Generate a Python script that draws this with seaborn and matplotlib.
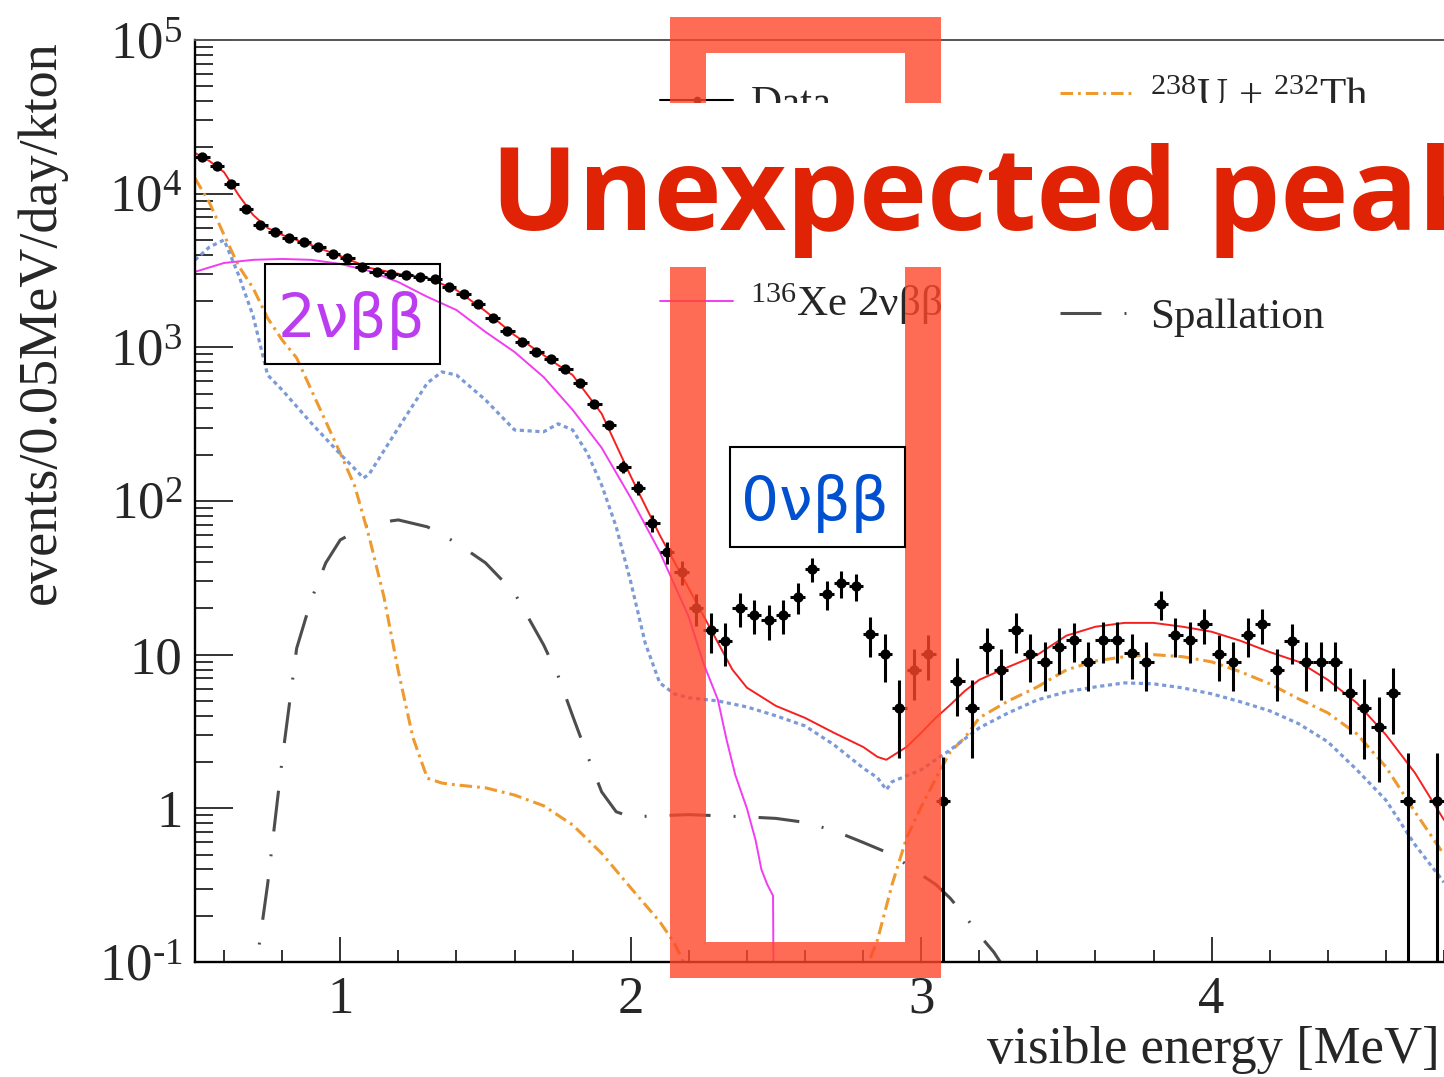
import numpy as np
import pandas as pd
import matplotlib
matplotlib.use("Agg")
import matplotlib.pyplot as plt
from matplotlib.patches import Rectangle
from matplotlib.lines import Line2D
from matplotlib.ticker import FixedLocator, LogLocator, NullFormatter, FuncFormatter, MultipleLocator
import seaborn as sns

# ---------------------------------------------------------------- data
# measured spectrum, 0.05 MeV bins (bin centres 0.525 ... 4.775 MeV)
energy_bins = np.round(np.arange(0.525, 4.80, 0.05), 3)
data_rate = [
    17300, 15100, 11600, 7950, 6250, 5630, 5150, 4850, 4500, 4070,
    3820, 3340, 3090, 3000, 2950, 2870, 2790, 2470, 2220, 1910,
    1550, 1280, 1085, 933, 841, 723, 587, 428, 313, 167,
    122, 72, 46.6, 34.6, 20.2, 14.5, 12.3, 20.2, 18.2, 16.8,
    18.2, 23.8, 36.2, 24.9, 29.3, 28.0, 13.6, 10.1, 4.5, 7.96,
    10.1, 1.12, 6.76, 4.5, 11.2, 7.96, 14.5, 10.1, 8.98, 11.2,
    12.5, 8.98, 12.5, 12.5, 10.3, 8.98, 21.4, 13.4, 12.5, 15.8,
    10.1, 8.98, 13.4, 15.8, 7.96, 12.3, 8.98, 8.98, 8.98, 5.64,
    4.5, 3.39, 5.64, 1.12, np.nan, 1.12,
]
data_err = [
    140, 130, 115, 95, 85, 80, 78, 75, 72, 68,
    66, 62, 60, 59, 58, 57, 57, 53, 50, 47,
    42, 38, 35, 33, 31, 29, 26, 22, 19, 14,
    12, 9, 7.6, 6.2, 4.8, 4.2, 3.8, 5.0, 4.5, 4.3,
    4.5, 5.5, 6.5, 5.4, 5.8, 5.6, 4.0, 3.5, 2.36, 2.9,
    3.3, 1.04, 2.77, 2.36, 3.7, 2.9, 4.2, 3.5, 3.2, 3.7,
    3.6, 3.2, 3.7, 3.7, 3.4, 3.2, 4.6, 3.8, 3.7, 4.0,
    3.4, 3.2, 3.8, 4.0, 3.0, 3.6, 3.2, 3.2, 3.2, 2.6,
    2.4, 1.9, 2.6, 1.18, np.nan, 1.18,
]

# best-fit total
total_e = [0.50, 0.55, 0.60, 0.65, 0.70, 0.75, 0.80, 0.90, 1.00, 1.10,
           1.20, 1.30, 1.40, 1.50, 1.60, 1.70, 1.80, 1.90, 2.00, 2.10,
           2.20, 2.30, 2.35, 2.40, 2.50, 2.60, 2.70, 2.80, 2.85, 2.88,
           2.95, 3.00, 3.05, 3.10, 3.15, 3.20, 3.30, 3.40, 3.50, 3.60,
           3.70, 3.80, 3.90, 4.00, 4.10, 4.20, 4.30, 4.40, 4.50, 4.60,
           4.70, 4.80]
total_rate = [18400, 16300, 13800, 9800, 7270, 5980, 5390, 4630, 3930, 3290,
              3010, 2830, 2360, 1720, 1200, 890, 660, 370, 145, 60,
              27, 12, 8.0, 6.1, 4.64, 3.88, 3.10, 2.51, 2.16, 2.07,
              2.51, 3.1, 3.88, 4.71, 5.8, 6.86, 8.32, 9.97, 13.3, 15.2,
              16.1, 16.1, 15.2, 14.1, 12.3, 10.4, 8.98, 6.86, 4.85, 3.01,
              1.70, 0.84]

# 136Xe two-neutrino double beta decay
xe2nu_e = [0.50, 0.60, 0.70, 0.80, 0.90, 1.00, 1.10, 1.20, 1.30, 1.40,
           1.50, 1.60, 1.70, 1.80, 1.90, 2.00, 2.10, 2.20, 2.25, 2.30,
           2.33, 2.36, 2.40, 2.43, 2.45, 2.47, 2.49, 2.495]
xe2nu_rate = [3100, 3540, 3710, 3760, 3710, 3490, 3140, 2660, 2130, 1750,
              1260, 933, 641, 392, 222, 105, 46.6, 17.6, 8.85, 5.1,
              2.8, 1.65, 1.0, 0.62, 0.40, 0.32, 0.27, 0.01]

# 238U + 232Th chains
uth_e = [0.50, 0.55, 0.60, 0.65, 0.70, 0.75, 0.80, 0.85, 0.90, 1.00,
         1.05, 1.10, 1.15, 1.20, 1.25, 1.30, 1.35, 1.40, 1.50, 1.60,
         1.70, 1.80, 1.90, 2.00, 2.05, 2.10, 2.15, 2.20, 2.80, 2.85,
         2.90, 2.95, 3.00, 3.05, 3.10, 3.15, 3.20, 3.30, 3.40, 3.50,
         3.60, 3.70, 3.80, 3.90, 4.00, 4.10, 4.20, 4.30, 4.40, 4.50,
         4.60, 4.70, 4.80]
uth_rate = [12600, 8710, 5390, 3390, 2430, 1550, 1117, 853, 530, 205,
            125, 58, 24, 7.8, 2.9, 1.57, 1.46, 1.42, 1.36, 1.22,
            1.04, 0.78, 0.51, 0.304, 0.236, 0.183, 0.133, 0.085, 0.08, 0.14,
            0.32, 0.645, 1.02, 1.56, 2.33, 2.88, 3.88, 5.0, 6.17, 7.96,
            9.1, 9.7, 10.0, 9.7, 8.98, 7.73, 6.46, 5.15, 4.18, 3.05,
            1.86, 0.95, 0.50]

# remaining background component (dotted)
other_bg_e = [0.50, 0.55, 0.60, 0.65, 0.70, 0.75, 0.80, 0.90, 1.00, 1.05,
              1.08, 1.10, 1.20, 1.30, 1.35, 1.40, 1.50, 1.60, 1.70, 1.75,
              1.80, 1.85, 1.90, 1.95, 2.00, 2.05, 2.10, 2.15, 2.20, 2.30,
              2.40, 2.50, 2.60, 2.70, 2.80, 2.85, 2.88, 2.90, 3.00, 3.05,
              3.10, 3.20, 3.30, 3.40, 3.50, 3.60, 3.70, 3.80, 3.90, 4.00,
              4.10, 4.20, 4.30, 4.40, 4.50, 4.60, 4.70, 4.80]
other_bg_rate = [3700, 4500, 5000, 2960, 1600, 661, 528, 322, 202, 162,
                 141, 150, 299, 587, 692, 661, 455, 290, 282, 318,
                 290, 206, 127, 68, 29.8, 11.9, 6.55, 5.56, 5.24, 5.0,
                 4.57, 4.0, 3.44, 2.59, 1.83, 1.58, 1.32, 1.49, 1.78, 2.07,
                 2.4, 3.34, 4.18, 5.08, 5.73, 6.17, 6.55, 6.46, 6.08, 5.56,
                 4.93, 4.31, 3.55, 2.71, 1.78, 1.13, 0.58, 0.33]

# spallation products
spall_e = [0.70, 0.72, 0.75, 0.80, 0.85, 0.90, 0.95, 1.00, 1.10, 1.20,
           1.30, 1.40, 1.50, 1.60, 1.70, 1.75, 1.80, 1.85, 1.90, 1.95,
           2.00, 2.20, 2.40, 2.50, 2.60, 2.70, 2.80, 2.90, 3.00, 3.05,
           3.10, 3.15, 3.20, 3.25, 3.28, 3.30]
spall_rate = [0.05, 0.125, 0.32, 2.07, 11.0, 22.7, 39.5, 55.8, 71, 75.3,
              67.9, 53.4, 39.6, 25.2, 11.6, 7.3, 4.0, 2.23, 1.28, 0.95,
              0.88, 0.91, 0.88, 0.86, 0.81, 0.715, 0.60, 0.50, 0.37, 0.32,
              0.26, 0.20, 0.15, 0.116, 0.095, 0.08]

y_tick_values = [0.1, 1, 10, 100, 1e3, 1e4, 1e5]
y_tick_labels = [r"$10^{\text{-}1}$", "1", "10", r"$10^{2}$", r"$10^{3}$",
                 r"$10^{4}$", r"$10^{5}$"]
x_tick_values = [1, 2, 3, 4]

# ---------------------------------------------------------------- style
sns.set_style("white")
plt.rcParams["font.family"] = ["Liberation Serif", "DejaVu Serif"]
plt.rcParams["mathtext.fontset"] = "custom"
plt.rcParams["mathtext.rm"] = "Liberation Serif"
plt.rcParams["mathtext.it"] = "Liberation Serif:italic"
plt.rcParams["mathtext.bf"] = "Liberation Serif:bold"
plt.rcParams["lines.scale_dashes"] = False

W, H = 1444, 1077
fig = plt.figure(figsize=(W / 100, H / 100), dpi=100)


def fx(px):
    return px / W


def fy(py):
    return 1 - py / H


ax = fig.add_axes([fx(195), fy(962), fx(1444) - fx(195), fy(40) - fy(962)])
ax.set_yscale("log")

RED = "#F52020"
MAGENTA = "#F23CF2"
ORANGE = "#EE9A2E"
BLUE = "#7C9AD8"
GREY = "#4D4D4D"
SPALL_DASH = (0, (29.5, 16.6, 1.4, 16.6))
UTH_DASH = (0, (9.0, 3.6, 2.0, 3.6))

sns.lineplot(x=spall_e, y=spall_rate, ax=ax, color=GREY, lw=2.2,
             linestyle=SPALL_DASH, estimator=None, sort=False)
sns.lineplot(x=uth_e, y=uth_rate, ax=ax, color=ORANGE, lw=2.2,
             linestyle=UTH_DASH, estimator=None, sort=False)
sns.lineplot(x=other_bg_e, y=other_bg_rate, ax=ax, color=BLUE, lw=2.3,
             linestyle=(0, (3.0, 2.6)), estimator=None, sort=False)
sns.lineplot(x=xe2nu_e, y=xe2nu_rate, ax=ax, color=MAGENTA, lw=1.4,
             estimator=None, sort=False)
sns.lineplot(x=total_e, y=total_rate, ax=ax, color=RED, lw=1.4,
             estimator=None, sort=False)

rate = np.array(data_rate, dtype=float)
err = np.array(data_err, dtype=float)
err_lo = np.where(rate - err > 0, err, rate - 1e-3)
ax.errorbar(energy_bins, rate, yerr=[err_lo, err], xerr=0.025, fmt="none",
            ecolor="black", elinewidth=2.2, capsize=0, zorder=4)
sns.scatterplot(x=energy_bins, y=rate, ax=ax, color="black", s=55,
                marker="o", edgecolor="black", linewidth=0, zorder=5)

ax.set_xlim(0.5, 4.8)
ax.set_ylim(0.1, 1e5)
ax.set_xlabel("")
ax.set_ylabel("")

ax.yaxis.set_major_locator(FixedLocator(y_tick_values))
ax.yaxis.set_major_formatter(FuncFormatter(
    lambda v, pos: dict(zip(y_tick_values, y_tick_labels)).get(v, "")))
ax.yaxis.set_minor_locator(LogLocator(base=10, subs=np.arange(2, 10), numticks=30))
ax.yaxis.set_minor_formatter(NullFormatter())
ax.xaxis.set_major_locator(FixedLocator(x_tick_values))
ax.xaxis.set_major_formatter(FuncFormatter(lambda v, pos: f"{v:g}"))
ax.xaxis.set_minor_locator(MultipleLocator(0.2))

ax.tick_params(axis="y", which="major", direction="in", length=27, width=1.4,
               color="#333333", labelsize=38, pad=9, left=True, right=False)
ax.tick_params(axis="y", which="minor", direction="in", length=13, width=1.4,
               color="#333333", left=True, right=False)
ax.tick_params(axis="x", which="major", direction="in", length=18, width=1.4,
               color="#333333", labelsize=38, pad=10, bottom=True, top=False)
ax.tick_params(axis="x", which="minor", direction="in", length=9, width=1.4,
               color="#333333", bottom=True, top=False)

for side in ("left", "bottom"):
    ax.spines[side].set_color("black")
    ax.spines[side].set_linewidth(1.7)
ax.spines["top"].set_color("#555555")
ax.spines["top"].set_linewidth(1.4)
ax.spines["right"].set_visible(False)

fig.text(fx(42), fy(40), "events/0.05MeV/day/kton", rotation=90,
         ha="center", va="top", fontsize=39)
fig.text(fx(1440), fy(1063), "visible energy [MeV]", ha="right",
         va="baseline", fontsize=38)

# legend entries
leg_kw = dict(loc="center left", frameon=False, borderpad=0, borderaxespad=0,
              handlelength=1.7, handletextpad=0.4, fontsize=31, numpoints=1)
entries = [
    (Line2D([], [], color="black", lw=1.5, marker="o", ms=4.5), "Data", 660, 104),
    (Line2D([], [], color=MAGENTA, lw=1.4), r"$^{136}$Xe 2νββ", 660, 304),
    (Line2D([], [], color=ORANGE, lw=2.2, linestyle=UTH_DASH),
     r"$^{238}$U + $^{232}$Th", 1060, 97),
    (Line2D([], [], color=GREY, lw=2.2, linestyle=SPALL_DASH),
     "Spallation", 1060, 317),
]
for handle, label, lx, ly in entries:
    fig.legend(handles=[handle], labels=[label],
               bbox_to_anchor=(fx(lx), fy(ly)), **leg_kw)

# highlight frame around the 0νββ window
fig.add_artist(Rectangle((fx(688), fy(960)), fx(923) - fx(688), fy(35) - fy(960),
                         transform=fig.transFigure, fill=False,
                         edgecolor=(1.0, 0.28, 0.17), alpha=0.8,
                         linewidth=25.9, joinstyle="miter", zorder=6))

# headline banner
fig.add_artist(Rectangle((fx(485), fy(267)), fx(1444) - fx(485), fy(103) - fy(267),
                         transform=fig.transFigure, facecolor="white",
                         edgecolor="none", zorder=7))
fig.text(fx(491), fy(230), "Unexpected peak", ha="left", va="baseline",
         fontsize=83, fontweight="bold", family=["Open Sans", "DejaVu Sans"],
         color="#E12305", zorder=8)

# labelled boxes
fig.add_artist(Rectangle((fx(265), fy(364)), fx(440) - fx(265), fy(264) - fy(364),
                         transform=fig.transFigure, fill=False,
                         edgecolor="black", linewidth=1.5, zorder=6))
fig.text(fx(351), fy(337), "2νββ", ha="center", va="baseline", fontsize=43,
         family=["DejaVu Sans"], color="#BB3DEF", zorder=8)

fig.add_artist(Rectangle((fx(730), fy(547)), fx(905) - fx(730), fy(447) - fy(547),
                         transform=fig.transFigure, facecolor="white",
                         edgecolor="black", linewidth=1.5, zorder=6))
fig.text(fx(815), fy(520), "0νββ", ha="center", va="baseline", fontsize=43,
         family=["DejaVu Sans"], color="#0050D0", zorder=8)

fig.savefig("out.png", dpi=100)
